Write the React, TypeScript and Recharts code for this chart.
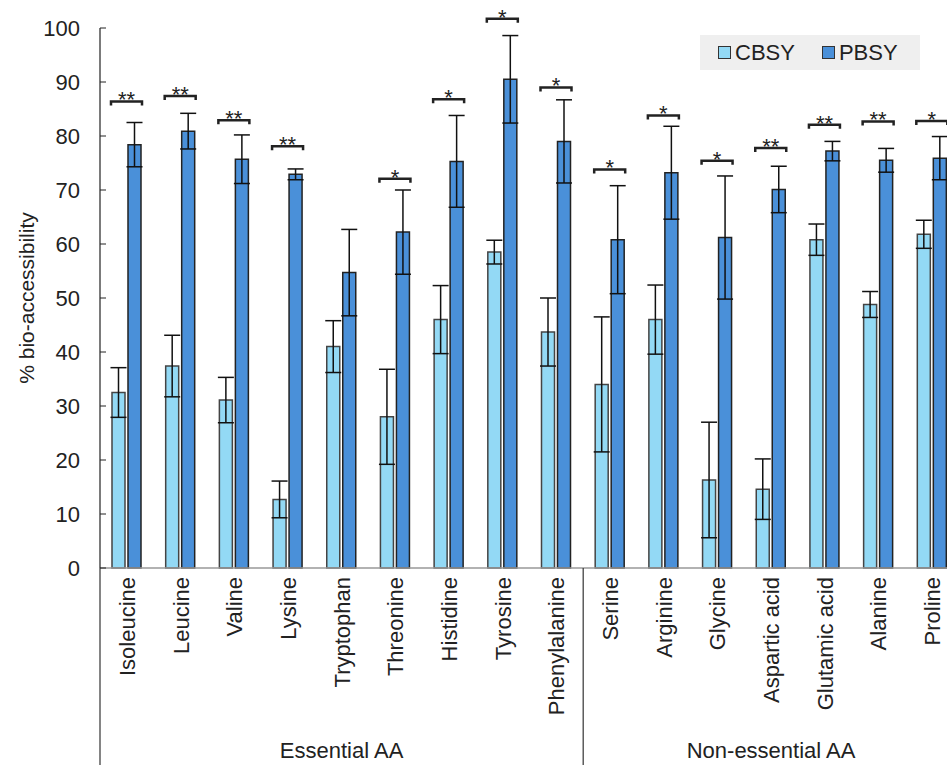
import React from "react";
import { BarChart, Bar, XAxis, YAxis, ErrorBar, Rectangle } from "recharts";

const categories = [
  "Isoleucine", "Leucine", "Valine", "Lysine", "Tryptophan", "Threonine",
  "Histidine", "Tyrosine", "Phenylalanine", "Serine", "Arginine", "Glycine",
  "Aspartic acid", "Glutamic acid", "Alanine", "Proline",
];
const cbsy = [32.5, 37.4, 31.1, 12.7, 41.0, 28.0, 46.0, 58.5, 43.7, 34.0, 46.0, 16.3, 14.6, 60.8, 48.8, 61.8];
const cbsyErr = [4.6, 5.7, 4.2, 3.4, 4.8, 8.8, 6.3, 2.2, 6.3, 12.5, 6.4, 10.7, 5.6, 2.9, 2.4, 2.6];
const pbsy = [78.4, 80.9, 75.7, 72.9, 54.7, 62.2, 75.3, 90.5, 79.0, 60.8, 73.2, 61.2, 70.1, 77.2, 75.5, 75.9];
const pbsyErr = [4.1, 3.3, 4.5, 1.0, 8.0, 7.8, 8.5, 8.1, 7.7, 10.0, 8.6, 11.4, 4.3, 1.8, 2.2, 4.0];
const sigMarks = ["**", "**", "**", "**", "", "*", "*", "*", "*", "*", "*", "*", "**", "**", "**", "*"];
const sigHeights = [86.4, 87.4, 82.9, 78.1, null, 72.1, 86.8, 101.7, 89.0, 73.8, 83.8, 75.4, 77.8, 82.1, 82.7, 82.8];
const groupLabels = ["Essential AA", "Non-essential AA"];
const groupSizes = [9, 7];
const yTicks = [0, 10, 20, 30, 40, 50, 60, 70, 80, 90, 100];

const data = categories.map((name, i) => ({
  name,
  cbsy: cbsy[i],
  cbsyErr: cbsyErr[i],
  pbsy: pbsy[i],
  pbsyErr: pbsyErr[i],
  sig: sigMarks[i],
  sigY: sigHeights[i],
}));

const FONT = '"Liberation Sans", Arial, sans-serif';
const CYAN = "#93D9F5";
const BLUE = "#4A90D9";
const CHART_W = 970;
const CHART_H = 765;
const Y_AXIS_W = 100;
const MARGIN = { top: 28, right: 11, bottom: 0, left: 0 };
const X_AXIS_H = 197;
const BAR_SIZE = 13;
const BAR_GAP = 3;
const band = (CHART_W - Y_AXIS_W - MARGIN.left - MARGIN.right) / categories.length;

// first index of each group
const groupStarts = groupSizes.map((_, g) => groupSizes.slice(0, g).reduce((a, b) => a + b, 0));

function XTick(props: any) {
  const { x, y, payload, index } = props;
  const y0 = y + 9;
  const g = groupStarts.indexOf(index);
  return (
    <g>
      <text
        x={x}
        y={y0}
        dy={8}
        transform={`rotate(-90 ${x} ${y0})`}
        textAnchor="end"
        fontSize={22}
        fontFamily={FONT}
        fill="#222"
      >
        {payload.value}
      </text>
      {g >= 0 && (
        <>
          <line x1={x - band / 2} x2={x - band / 2} y1={y} y2={CHART_H} stroke="#333" strokeWidth={1.2} />
          <text
            x={x + ((groupSizes[g] - 1) / 2) * band}
            y={y + 190}
            textAnchor="middle"
            fontSize={22}
            fontFamily={FONT}
            fill="#222"
          >
            {groupLabels[g]}
          </text>
        </>
      )}
    </g>
  );
}

function YTick(props: any) {
  const { x, y, payload } = props;
  return (
    <g>
      <line x1={x} x2={x + 6} y1={y} y2={y} stroke="#222" strokeWidth={1} />
      <text x={x - 20} y={y} dy={8} textAnchor="end" fontSize={22} fontFamily={FONT} fill="#222">
        {payload.value}
      </text>
    </g>
  );
}

function PbsyShape(props: any) {
  const { x, y, width, height, payload } = props;
  const base = y + height;
  const perUnit = height / payload.pbsy;
  const by = payload.sigY != null ? base - payload.sigY * perUnit : null;
  const bx1 = x - BAR_GAP - width - 1;
  const bx2 = x + width + 1;
  return (
    <g>
      <Rectangle x={x} y={y} width={width} height={height} fill={BLUE} stroke="#222" strokeWidth={1.5} />
      {by != null && (
        <>
          <path
            d={`M${bx1},${by + 4} L${bx1},${by} L${bx2},${by} L${bx2},${by + 4}`}
            fill="none"
            stroke="#222"
            strokeWidth={2.5}
          />
          <text x={(bx1 + bx2) / 2} y={by + 6} textAnchor="middle" fontSize={22} fontFamily={FONT} fill="#222">
            {payload.sig}
          </text>
        </>
      )}
    </g>
  );
}

function YLabel(props: any) {
  const vb = props.viewBox || {};
  const cx = (vb.x ?? 0) + 27;
  const cy = (vb.y ?? 0) + (vb.height ?? 0) / 2;
  return (
    <text
      x={cx}
      y={cy}
      dy={7}
      transform={`rotate(-90 ${cx} ${cy})`}
      textAnchor="middle"
      fontSize={21}
      fontFamily={FONT}
      fill="#222"
    >
      % bio-accessibility
    </text>
  );
}

function LegendBox() {
  const item = (color: string, label: string, ml: number) => (
    <div style={{ display: "flex", alignItems: "center", marginLeft: ml }}>
      <div style={{ width: 11, height: 11, background: color, border: "1.5px solid #333", marginRight: 4 }} />
      <span>{label}</span>
    </div>
  );
  return (
    <div
      style={{
        position: "absolute",
        left: 700,
        top: 35,
        width: 220,
        height: 35,
        background: "#efefef",
        display: "flex",
        alignItems: "center",
        fontFamily: FONT,
        fontSize: 22,
        color: "#222",
      }}
    >
      {item(CYAN, "CBSY", 18)}
      {item(BLUE, "PBSY", 27)}
    </div>
  );
}

export default function App() {
  return (
    <div
      style={{
        position: "absolute",
        left: 0,
        top: 0,
        width: 947,
        height: 765,
        overflow: "hidden",
        background: "#fff",
      }}
    >
      <BarChart width={CHART_W} height={CHART_H} data={data} margin={MARGIN} barGap={BAR_GAP}>
        <XAxis
          dataKey="name"
          height={X_AXIS_H}
          interval={0}
          tick={<XTick />}
          tickLine={false}
          tickSize={0}
          tickMargin={0}
          axisLine={{ stroke: "#999", strokeWidth: 1.5 }}
        />
        <YAxis
          width={Y_AXIS_W}
          domain={[0, 100]}
          ticks={yTicks}
          interval={0}
          tick={<YTick />}
          tickLine={false}
          tickSize={0}
          tickMargin={0}
          axisLine={{ stroke: "#222", strokeWidth: 1.2 }}
          label={<YLabel />}
        />
        <Bar dataKey="cbsy" barSize={BAR_SIZE} fill={CYAN} stroke="#444" strokeWidth={1.5} isAnimationActive={false}>
          <ErrorBar dataKey="cbsyErr" width={8} stroke="#111" strokeWidth={1.5} />
        </Bar>
        <Bar dataKey="pbsy" barSize={BAR_SIZE} fill={BLUE} shape={<PbsyShape />} isAnimationActive={false}>
          <ErrorBar dataKey="pbsyErr" width={8} stroke="#111" strokeWidth={1.5} />
        </Bar>
      </BarChart>
      <LegendBox />
    </div>
  );
}
